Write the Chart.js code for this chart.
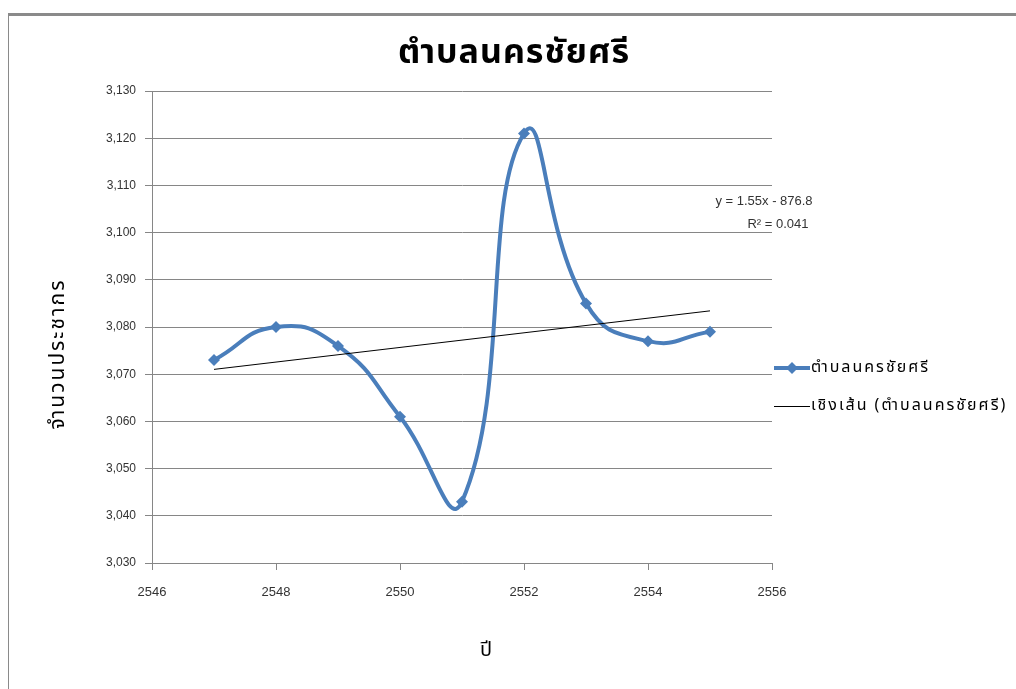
<!DOCTYPE html>
<html>
<head>
<meta charset="utf-8">
<script src="https://cdn.jsdelivr.net/npm/chart.js@4.4.1/dist/chart.umd.min.js"></script>
<style>
  html, body { margin: 0; padding: 0; background: #fff; }
  #wrap { position: relative; width: 1016px; height: 689px; overflow: hidden; }
  #frame { position: absolute; left: 8px; top: 13px; width: 1100px; height: 700px;
           border-top: 3px solid #8a8a8a; border-left: 1px solid #8a8a8a; }
  canvas { position: absolute; left: 0; top: 0; }
</style>
</head>
<body>
<div id="wrap">
  <div id="frame"></div>
  <canvas id="c" width="1016" height="689"></canvas>
</div>
<script>
const TITLE = 'ตำบลนครชัยศรี';
const SERIES_NAME = 'ตำบลนครชัยศรี';
const TREND_NAME = 'เชิงเส้น (ตำบลนครชัยศรี)';
const Y_TITLE = 'จำนวนประชากร';
const X_TITLE = 'ปี';
const years = [2547, 2548, 2549, 2550, 2551, 2552, 2553, 2554, 2555];
const population = [3073, 3080, 3076, 3061, 3043, 3121, 3085, 3077, 3079];
const xTicks = [2546, 2548, 2550, 2552, 2554, 2556];
const yTicks = [3030, 3040, 3050, 3060, 3070, 3080, 3090, 3100, 3110, 3120, 3130];
const trendLabel = ['y = 1.55x - 876.8', 'R² = 0.041'];

// least-squares linear trend from the data
const n = years.length;
const mx = years.reduce((a, b) => a + b, 0) / n;
const my = population.reduce((a, b) => a + b, 0) / n;
let sxy = 0, sxx = 0;
for (let i = 0; i < n; i++) { sxy += (years[i] - mx) * (population[i] - my); sxx += (years[i] - mx) ** 2; }
const slope = sxy / sxx, intercept = my - slope * mx;
const trendX = [years[0], years[n - 1]];
const trendPts = trendX.map(x => ({ x, y: slope * x + intercept }));

const THAI = "'Noto Sans Thai', 'Noto Sans', 'Liberation Sans', sans-serif";
const BLUE = '#4A7EBB';
const GRID = '#868686';

const extras = {
  id: 'extras',
  afterDraw(chart) {
    const ctx = chart.ctx;
    const ca = chart.chartArea;
    ctx.save();
    // chart title
    ctx.fillStyle = '#000';
    ctx.textAlign = 'center';
    ctx.textBaseline = 'middle';
    ctx.font = "bold 34px " + THAI;
    ctx.letterSpacing = '1px';
    ctx.fillText(TITLE, 514, 56);
    // axis titles
    ctx.font = "20px " + THAI;
    ctx.letterSpacing = '2px';
    ctx.fillText(X_TITLE, 487, 652);
    ctx.save();
    ctx.translate(60, 354);
    ctx.rotate(-Math.PI / 2);
    ctx.font = "21px " + THAI;
    ctx.fillText(Y_TITLE, 0, 0);
    ctx.restore();
    ctx.letterSpacing = '0px';
    // trendline equation
    ctx.fillStyle = '#333';
    ctx.font = "13px 'Liberation Sans', sans-serif";
    ctx.fillText(trendLabel[0], 764, 201);
    ctx.fillText(trendLabel[1], 778, 224);
    // legend
    const lx = ca.right + 2;
    ctx.strokeStyle = BLUE; ctx.lineWidth = 4;
    ctx.beginPath(); ctx.moveTo(lx, 368); ctx.lineTo(lx + 36, 368); ctx.stroke();
    ctx.fillStyle = BLUE;
    ctx.beginPath(); ctx.moveTo(lx + 18, 362); ctx.lineTo(lx + 24, 368); ctx.lineTo(lx + 18, 374); ctx.lineTo(lx + 12, 368); ctx.closePath(); ctx.fill();
    ctx.strokeStyle = '#000'; ctx.lineWidth = 1;
    ctx.beginPath(); ctx.moveTo(lx, 406.5); ctx.lineTo(lx + 36, 406.5); ctx.stroke();
    ctx.fillStyle = '#000';
    ctx.font = "16px " + THAI;
    ctx.letterSpacing = '2px';
    ctx.textAlign = 'left';
    ctx.fillText(SERIES_NAME, lx + 37, 369);
    ctx.fillText(TREND_NAME, lx + 37, 407);
    ctx.restore();
  }
};

new Chart(document.getElementById('c'), {
  type: 'line',
  data: {
    datasets: [
      {
        label: SERIES_NAME,
        data: years.map((x, i) => ({ x, y: population[i] })),
        borderColor: BLUE,
        backgroundColor: BLUE,
        borderWidth: 4,
        tension: 0.5,
        pointStyle: 'rectRot',
        pointRadius: 6,
        pointBorderWidth: 0,
        order: 1
      },
      {
        label: TREND_NAME,
        data: trendPts,
        borderColor: '#000',
        borderWidth: 1,
        pointRadius: 0,
        tension: 0,
        order: 0
      }
    ]
  },
  options: {
    responsive: false,
    animation: false,
    layout: { padding: { left: 40, right: 244, top: 91, bottom: 18 } },
    plugins: {
      legend: { display: false },
      tooltip: { enabled: false },
      title: { display: false }
    },
    scales: {
      x: {
        type: 'linear',
        min: 2546, max: 2556,
        afterBuildTicks: s => { s.ticks = xTicks.map(v => ({ value: v })); },
        afterFit: s => { s.height = 108; },
        border: { color: GRID, width: 1 },
        grid: { drawOnChartArea: false, drawTicks: true, tickLength: 7, color: GRID },
        ticks: { color: '#333', font: { family: "'Liberation Sans', sans-serif", size: 13 }, padding: 15, maxRotation: 0,
                 callback: v => String(v) },
        title: { display: false }
      },
      y: {
        type: 'linear',
        min: 3030, max: 3130,
        afterBuildTicks: s => { s.ticks = yTicks.map(v => ({ value: v })); },
        afterFit: s => { s.width = 112; },
        border: { color: GRID, width: 1 },
        grid: { color: GRID, lineWidth: 1, tickLength: 7, drawTicks: true },
        ticks: { color: '#333', font: { family: "'Liberation Sans', sans-serif", size: 12 }, padding: 9,
                 callback: v => v.toLocaleString('en-US') },
        title: { display: false }
      }
    }
  },
  plugins: [extras]
});
</script>
</body>
</html>
